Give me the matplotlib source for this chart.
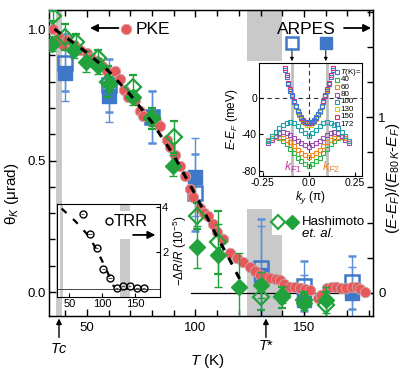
import matplotlib
matplotlib.use("Agg")
import matplotlib.pyplot as plt
from matplotlib.ticker import MultipleLocator, FixedLocator

plt.rcParams['font.family'] = ['Liberation Sans', 'DejaVu Sans']
plt.rcParams['mathtext.fontset'] = 'custom'
plt.rcParams['mathtext.rm'] = 'Liberation Sans'
plt.rcParams['mathtext.it'] = 'Liberation Sans:italic'
plt.rcParams['mathtext.bf'] = 'Liberation Sans:bold'

# --- PKE (Kerr rotation), left axis
pke_T = [34.5, 37, 39, 41, 44, 47, 50, 52, 54.5, 57, 59, 63, 65, 67, 69, 72,
         74.4, 76, 79.8, 82, 83.6, 86.7, 88.5, 90.5, 92.9, 95, 97.5, 99, 102,
         104, 106, 108, 110, 112.8, 115.9, 119, 122, 125, 127.5, 129.7, 132,
         134.3, 137, 139, 141, 143.5, 146, 148, 150.5, 152.8, 156.6, 158,
         160.5, 163, 165, 167, 169.6, 172, 174.3, 176, 178]
pke_theta = [1.00, 0.97, 0.94, 0.96, 0.94, 0.92, 0.91, 0.89, 0.88, 0.86, 0.84,
             0.84, 0.81, 0.77, 0.74, 0.73, 0.69, 0.67, 0.67, 0.65, 0.63, 0.58,
             0.55, 0.52, 0.48, 0.44, 0.39, 0.36, 0.32, 0.30, 0.29, 0.26, 0.23,
             0.20, 0.15, 0.13, 0.115, 0.096, 0.08, 0.065, 0.058, 0.052, 0.05,
             0.046, 0.03, 0.02, 0.018, 0.014, 0.01, 0.008, -0.024, -0.01,
             0.014, 0.018, 0.02, 0.016, 0.014, 0.018, 0.02, 0.01, 0.001]

# dashed guide through PKE
fit_T = [35, 50, 60, 70, 80, 90, 100, 110, 116, 121]
fit_theta = [1.0, 0.91, 0.84, 0.75, 0.645, 0.52, 0.37, 0.21, 0.12, 0.04]

# --- ARPES, right axis
arpes_T = [40, 60, 80, 100, 130, 150, 172]
kf1_val = [1.31, 1.18, 1.0, 0.57, 0.14, 0.04, 0.06]
kf2_val = [1.25, 1.12, 1.0, 0.66, 0.10, -0.04, 0.00]
arpes_err = [0.16, 0.15, 0.15, 0.22, 0.28, 0.14, 0.15]

# --- Hashimoto et al.
hf_T = [34, 44, 49.5, 55, 60, 71, 80, 89.5, 100.5, 110.5, 120, 130, 140, 150, 160]
hf_val = [0.945, 0.92, 0.875, 0.86, 0.79, 0.74, 0.66, 0.48, 0.17, 0.14, 0.02,
          0.027, -0.01, -0.04, -0.03]
hf_err = [0.03, 0.03, 0.04, 0.03, 0.03, 0.03, 0.03, 0.04, 0.08, 0.12, 0.13,
          0.05, 0.03, 0.03, 0.05]
ho_T = [34.5, 40, 45, 55, 59.5, 71, 80, 90, 100.5, 110.5, 130, 140, 150, 160]
ho_val = [1.05, 0.97, 0.95, 0.89, 0.80, 0.78, 0.66, 0.59, 0.29, 0.19, -0.018,
          -0.02, -0.03, -0.05]
ho_err = [0.02, 0.05, 0.03, 0.03, 0.06, 0.045, 0.04, 0.06, 0.05, 0.12, 0.05,
          0.04, 0.03, 0.05]

# --- TRR inset
trr_T = [70.3, 81.4, 91.5, 101.5, 111.7, 121.8, 131.8, 142, 153, 163]
trr_val = [3.69, 2.8, 2.2, 1.27, 0.87, 0.38, 0.49, 0.49, 0.40, 0.38]
trr_fit_T = [38, 60, 80, 95, 105, 118]
trr_fit_val = [3.95, 3.35, 2.7, 1.9, 1.3, 0.45]

# --- dispersion inset
k_u = [-0.13, -0.12, -0.11, -0.10, -0.09, -0.08, -0.07, -0.06, -0.05, -0.04,
       -0.03, -0.02, -0.01, 0.0, 0.01, 0.02, 0.03, 0.04, 0.05, 0.06, 0.07,
       0.08, 0.09, 0.10, 0.11, 0.12, 0.13]
e_172 = [31, 23, 15, 8, 2, -4, -9, -14, -18, -21, -24, -26, -27, -27, -27, -26,
         -24, -21, -18, -14, -9, -4, 2, 8, 15, 23, 31]
e_150 = [33, 25, 17, 10, 3, -3, -9, -14, -18, -22, -25, -27, -28, -28, -28,
         -27, -25, -22, -18, -14, -9, -3, 3, 10, 17, 25, 33]
k_130 = [-0.11, -0.10, -0.09, -0.08, -0.07, -0.06, -0.05, -0.04, -0.03, -0.02,
         -0.01, 0.0, 0.01, 0.02, 0.03, 0.04, 0.05, 0.06, 0.07, 0.08, 0.09,
         0.10, 0.11]
e_130 = [16, 9, 2, -4, -10, -15, -19, -23, -26, -28, -30, -30, -30, -28, -26,
         -23, -19, -15, -10, -4, 2, 9, 16]
k_g = [-0.22, -0.20, -0.18, -0.16, -0.14, -0.12, -0.10, -0.08, -0.06, -0.04,
       -0.02, 0.0, 0.02, 0.04, 0.06, 0.08, 0.10, 0.12, 0.14, 0.16, 0.18, 0.20,
       0.22]
e_100 = [-47, -42, -37, -33, -30, -28, -27, -28, -31, -35, -39, -42, -39, -35,
         -31, -28, -27, -28, -30, -33, -37, -42, -47]
e_80 = [-50, -46, -42, -39, -38, -39, -41, -44, -47, -50, -52, -54, -52, -50,
        -47, -44, -41, -39, -38, -39, -42, -46, -50]
e_60 = [-46, -44, -43, -43, -44, -46, -49, -53, -57, -61, -63, -65, -63, -61,
        -57, -53, -49, -46, -44, -43, -43, -44, -47]
k_40 = [-0.20, -0.18, -0.16, -0.14, -0.12, -0.10, -0.08, -0.06, -0.04, -0.02,
        0.0, 0.02, 0.04, 0.06, 0.08, 0.10, 0.12, 0.14, 0.16, 0.18, 0.20]
e_40 = [-44, -43, -44, -47, -51, -56, -61, -66, -70, -73, -75, -73, -70, -66,
        -61, -56, -51, -47, -44, -43, -44]
disp_labels = ['40', '60', '80', '100', '130', '150', '172']
disp_colors = ['#2db34a', '#f08a1c', '#9b4fb0', '#1fa0a8', '#c8d400',
               '#e0287a', '#3c78d8']

RED = '#e8585a'
BLUE = '#3f78c8'
BLUE_ERR = '#5b90d8'
GREEN = '#22a23c'
GREY = '#c9c9c9'

fig = plt.figure(figsize=(4.12, 3.69), dpi=100)
ax = fig.add_axes([0.119, 0.1436, 0.786, 0.829])
ax2 = ax.twinx()
ax.set_zorder(ax2.get_zorder() + 1)
ax.patch.set_visible(False)

ax.set_xlim(32.5, 181.8)
ax.set_ylim(-0.091, 1.072)
ax2.set_ylim(-0.131, 1.608)

# grey bands (Tc and T*)
ax2.axvspan(35.5, 38.7, color=GREY, lw=0, zorder=0)
ax2.axvspan(124, 140, ymin=0.833, ymax=1, color=GREY, lw=0, zorder=0)
ax2.axvspan(124, 135.5, ymin=0, ymax=0.35, color=GREY, lw=0, zorder=0)
ax2.axvspan(135.5, 140, ymin=0, ymax=0.265, color=GREY, lw=0, zorder=0)
ax2.plot([98, 182], [0, 0], color='k', lw=0.9, zorder=1)

# ARPES squares
ax2.errorbar(arpes_T, kf2_val, yerr=arpes_err, fmt='s', ms=10, mfc=BLUE,
             mec=BLUE, ecolor=BLUE_ERR, elinewidth=1, capsize=3, zorder=2)
ax2.errorbar(arpes_T, kf1_val, yerr=arpes_err, fmt='s', ms=10, mfc='none',
             mec=BLUE, mew=1.8, ecolor=BLUE_ERR, elinewidth=1, capsize=3,
             zorder=2)

# PKE + Hashimoto
ax.plot(pke_T, pke_theta, 'o', ms=7.5, mfc=RED, mec='#c8a8a8', mew=0.6,
        zorder=3)
ax.errorbar(hf_T, hf_val, yerr=hf_err, fmt='D', ms=8.3, mfc=GREEN, mec=GREEN,
            ecolor=GREEN, elinewidth=1, capsize=3, zorder=4)
ax.errorbar(ho_T, ho_val, yerr=ho_err, fmt='D', ms=8.3, mfc='none', mec=GREEN,
            mew=1.6, ecolor=GREEN, elinewidth=1, capsize=3, zorder=4)
ax.plot(fit_T, fit_theta, color='k', lw=2.2, dashes=(2.5, 2.8), zorder=5)

# ticks
ax.xaxis.set_major_locator(FixedLocator([50, 100, 150]))
ax.xaxis.set_minor_locator(MultipleLocator(10))
ax.yaxis.set_major_locator(FixedLocator([0.0, 0.5, 1.0]))
ax.yaxis.set_minor_locator(MultipleLocator(0.1))
ax.set_yticklabels(['0.0', '0.5', '1.0'])
ax2.yaxis.set_major_locator(FixedLocator([0, 1]))
ax2.yaxis.set_minor_locator(MultipleLocator(0.2))
ax.tick_params(which='both', direction='in', top=True, right=False,
               labelsize=9.5, width=1)
ax.tick_params(which='major', length=5)
ax.tick_params(which='minor', length=4)
ax.tick_params(axis='y', pad=2)
ax.tick_params(axis='x', pad=4)
ax2.tick_params(which='both', direction='in', labelsize=9.5, width=1, pad=4)
ax2.tick_params(which='major', length=5)
ax2.tick_params(which='minor', length=4)
for sp in ax.spines.values():
    sp.set_linewidth(1)

ax.set_xlabel('$T$ (K)', fontsize=11)
ax.xaxis.set_label_coords(0.49, -0.118)
ax.set_ylabel('θ$_K$ (μrad)', fontsize=11)
ax.yaxis.set_label_coords(-0.088, 0.40)
ax2.set_ylabel('($E$-$E_F$)/($E_{80\\,K}$-$E_F$)', fontsize=11)
ax2.yaxis.set_label_coords(1.035, 0.45)

# PKE label
ax.annotate('', xy=(51.4, 1.004), xytext=(64.5, 1.004),
            arrowprops=dict(arrowstyle='-|>', color='k', lw=1.3,
                            mutation_scale=11, shrinkA=0, shrinkB=0))
ax.plot([67.8], [1.0], 'o', ms=7.5, mfc=RED, mec='#c8a8a8', mew=0.6,
        clip_on=False, zorder=6)
ax.text(72.3, 1.0, 'PKE', fontsize=12.5, va='center', ha='left')

# ARPES label
ax.text(137.6, 1.0, 'ARPES', fontsize=12.5, va='center', ha='left')
ax.annotate('', xy=(181, 1.004), xytext=(168.5, 1.004),
            arrowprops=dict(arrowstyle='-|>', color='k', lw=1.3,
                            mutation_scale=11, shrinkA=0, shrinkB=0))
ax.plot([144.5], [0.947], 's', ms=8, mfc='none', mec=BLUE, mew=1.8, zorder=6)
ax.plot([160.1], [0.947], 's', ms=8, mfc=BLUE, mec=BLUE, zorder=6)
for tx in (144.5, 160.1):
    ax.annotate('', xy=(tx, 0.878), xytext=(tx, 0.925),
                arrowprops=dict(arrowstyle='-|>', color='k', lw=0.7,
                                mutation_scale=5, shrinkA=0, shrinkB=0))

# Hashimoto label
ax.plot([138], [0.266], 'D', ms=7, mfc='none', mec=GREEN, mew=1.5, zorder=6)
ax.plot([144.5], [0.266], 'D', ms=7, mfc=GREEN, mec=GREEN, zorder=6)
ax.text(149.3, 0.268, 'Hashimoto', fontsize=9.5, va='center', ha='left')
ax.text(149.3, 0.222, 'et. al.', fontsize=9.5, va='center', ha='left',
        style='italic')

# Tc, T* arrows
for tx, lab, ty in ((37.1, '$Tc$', -0.085), (132.5, '$T$*', -0.075)):
    ax.annotate('', xy=(tx, -0.008), xytext=(tx, -0.07),
                xycoords=('data', 'axes fraction'),
                textcoords=('data', 'axes fraction'),
                arrowprops=dict(arrowstyle='-|>', color='k', lw=1,
                                mutation_scale=8, shrinkA=0, shrinkB=0))
    ax.text(tx, ty, lab, transform=ax.get_xaxis_transform(), fontsize=10.5,
            ha='center', va='top')

# --- TRR inset
ins = fig.add_axes([57 / 412, (369 - 297) / 369, 103 / 412, 93 / 369])
ins.set_zorder(10)
ins.set_xlim(31, 188)
ins.set_ylim(0.0, 4.15)
ins.axvspan(35.5, 39.5, color=GREY, lw=0, zorder=0)
ins.axvspan(127, 142, ymin=0, ymax=0.62, color=GREY, lw=0, zorder=0)
ins.axvspan(127, 142, ymin=0.92, ymax=1, color=GREY, lw=0, zorder=0)
ins.axhline(0.36, color='#444444', lw=0.7, zorder=1)
ins.plot(trr_fit_T, trr_fit_val, color='k', lw=1.6, dashes=(3, 4), zorder=2)
ins.errorbar(trr_T, trr_val, xerr=2.5, fmt='o', ms=5, mfc='none', mec='k',
             mew=1, ecolor='#555555', elinewidth=0.8, zorder=3)
ins.plot([110.3], [3.39], 'o', ms=5, mfc='none', mec='k', mew=1)
ins.text(117.5, 3.39, 'TRR', fontsize=12, va='center', ha='left')
ins.annotate('', xy=(181, 2.77), xytext=(147, 2.77),
             arrowprops=dict(arrowstyle='-|>', color='k', lw=1.3,
                             mutation_scale=11, shrinkA=0, shrinkB=0))
ins.xaxis.set_major_locator(FixedLocator([50, 100, 150]))
ins.yaxis.set_major_locator(FixedLocator([2, 4]))
ins.yaxis.tick_right()
ins.yaxis.set_label_position('right')
ins.tick_params(direction='in', length=3, labelsize=8, pad=1.5, width=0.8)
ins.set_ylabel('−Δ$R$/$R$ (10$^{-5}$)', fontsize=8.5, labelpad=2)
for sp in ins.spines.values():
    sp.set_linewidth(0.8)

# --- dispersion inset
din = fig.add_axes([259 / 412, (369 - 176) / 369, 103 / 412, 113 / 369])
din.set_zorder(10)
din.set_xlim(-0.27, 0.29)
din.set_ylim(-86, 38.5)
din.axvline(-0.09, color='#bdbdbd', lw=2, zorder=0)
din.axvline(0.10, color='#bdbdbd', lw=2, zorder=0)
din.axvline(0, color='#333333', lw=0.8, ls=(0, (4, 3)), zorder=1)
din.axhline(0, color='#333333', lw=0.8, ls=(0, (4, 3)), zorder=1)
curves = [(k_40, e_40), (k_g, e_60), (k_g, e_80), (k_g, e_100),
          (k_130, e_130), (k_u, e_150), (k_u, e_172)]
for (kk, ee), col in zip(curves, disp_colors):
    din.plot(kk, ee, 's', ms=3, mfc='none', mec=col, mew=0.8, zorder=2)
# legend
din.plot([0.757], [0.92], 's', ms=3, mfc='none', mec=disp_colors[-1],
         mew=0.8, transform=din.transAxes, clip_on=False)
din.text(0.79, 0.92, '$T$(K)=', transform=din.transAxes, fontsize=5.8,
         va='center', ha='left')
for i, (lab, col) in enumerate(zip(disp_labels, disp_colors)):
    yy = 0.85 - i * 0.065
    din.plot([0.757], [yy], 's', ms=3, mfc='none', mec=col, mew=0.8,
             transform=din.transAxes, clip_on=False)
    din.text(0.79, yy, lab, transform=din.transAxes, fontsize=5.8,
             va='center', ha='left')
din.text(-0.083, -77, '$k_{F1}$', color='#c23fa0', fontsize=9, ha='center',
         va='center')
din.text(0.123, -77, '$k_{F2}$', color='#f08020', fontsize=9, ha='center',
         va='center')
din.xaxis.set_major_locator(FixedLocator([-0.25, 0.0, 0.25]))
din.set_xticklabels(['-0.25', '0.0', '0.25'])
din.yaxis.set_major_locator(FixedLocator([0, -40, -80]))
din.set_yticklabels(['0', '-40', '-80'])
din.tick_params(direction='in', length=3, labelsize=7.5, pad=1.5, width=0.8)
din.set_xlabel('$k_y$ (π)', fontsize=8.5, labelpad=1)
din.set_ylabel('$E$-$E_F$ (meV)', fontsize=8.5, labelpad=1)
for sp in din.spines.values():
    sp.set_linewidth(0.8)

fig.savefig('out.png', dpi=100)
